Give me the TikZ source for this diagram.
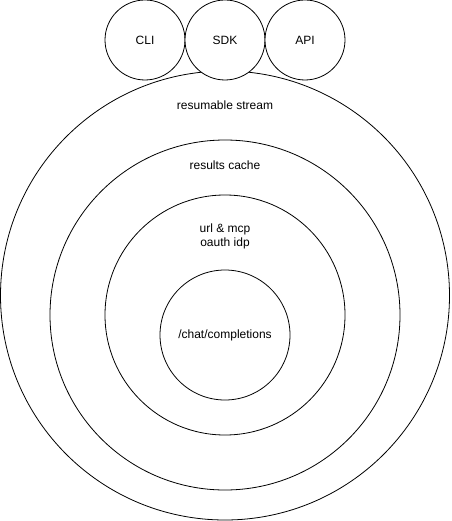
\documentclass[tikz,border=0pt]{standalone}
\usepackage{fontspec}
\setmainfont{Liberation Sans}
\begin{document}
\begin{tikzpicture}[x=1pt,y=-1pt,
  ring/.style={circle,draw=black,line width=0.8pt,inner sep=0pt},
  client/.style={circle,draw=black,fill=white,line width=0.8pt,minimum size=80pt,inner sep=0pt},
  lbl/.style={font=\fontsize{12}{14}\selectfont,align=center,inner sep=0pt}]
\useasboundingbox (0,0) rectangle (451,521);
\node[ring,minimum size=449pt] (stream) at (225,295.5) {};
\node[ring,minimum size=350pt] (cache) at (225,315) {};
\node[ring,minimum size=240pt] (oauth) at (225,315) {};
\node[ring,minimum size=130pt] (chat) at (225,335) {};
\node[lbl] (tstream) at (225,105) {resumable stream};
\node[lbl] (tcache) at (225,165) {results cache};
\node[lbl] (toauth) at (225,236) {url \& mcp\\oauth idp};
\node[lbl] (tchat) at (225,335) {/chat/completions};
\node[client] (cli) at (145,40) {};
\node[client] (sdk) at (225,40) {};
\node[client] (api) at (305,40) {};
\node[lbl] at (cli.center) {CLI};
\node[lbl] at (sdk.center) {SDK};
\node[lbl] at (api.center) {API};
\end{tikzpicture}
\end{document}
